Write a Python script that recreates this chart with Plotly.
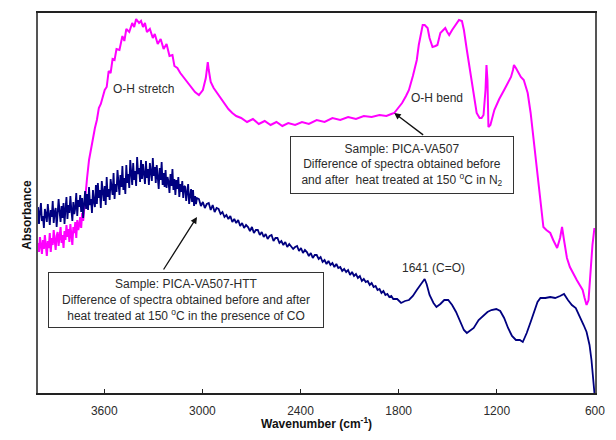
import plotly.graph_objects as go

# ---------------- data ----------------
# Sample PICA-VA507 (N2), magenta.  Noisy start sampled every 6 cm-1.
n2_noisy_wn = list(range(4005, 3716, -6))
n2_noisy_abs = [150,141,156,147,139,153,144,158,149,137,
                152,145,160,141,155,148,163,150,143,157,
                161,147,154,166,150,158,145,162,153,168,
                156,164,151,169,158,148,166,160,171,155,
                173,163,168,176,165,180,172,184,197]
n2_wn = [3705,3693,3681,3669,3657,3645,3633,3621,3609,3597,3585,3573,3561,3549,3537,3525,3507,3489,3477,3465,
         3447,3429,3417,3405,3387,3375,3363,3351,3339,3321,3303,3291,3273,3255,3237,3219,3201,3183,3171,3153,3135,
         3117,3099,3081,3063,3045,3021,2997,2979,2967,2961,2949,2931,2913,2889,2865,2841,2817,2793,2763,2727,2691,
         2655,2619,2583,2547,2511,2475,2433,2391,2349,2301,2253,2205,2157,2109,2061,2013,1965,1917,1875,1845,1827,
         1803,1779,1755,1737,1713,1689,1677,1665,1653,1641,1623,1611,1593,1575,1563,1545,1527,1515,1503,1491,1473,
         1461,1443,1431,1413,1401,1383,1365,1353,1335,1323,1305,1293,1281,1269,1263,1257,1251,1239,1215,1185,1155,
         1131,1113,1101,1095,1083,1071,1053,1035,1011,993,975,957,945,927,915,897,873,855,831,813,801,789,771,753,
         729,711,693,675,663,651,639,627,615,603]
n2_abs = [215,233,245,253,265,273,285,289,297,303,306,322,320,334,333,344,343,357,352,364,
          361,370,366,374,370,372,366,370,361,364,355,359,349,354,344,349,337,338,327,325,320,
          316,313,309,305,301,298,303,315,331,323,311,305,301,295,290,284,280,277,275,271,274,
          269,272,268,271,267,270,268,271,269,273,271,275,273,276,274,277,276,278,277,279,280,
          285,290,297,303,317,333,348,360,368,368,365,355,346,347,348,360,363,365,361,358,363,
          366,370,373,372,363,343,325,310,293,280,275,275,278,303,328,313,266,268,283,294,303,
          310,316,323,328,325,321,316,313,300,280,253,228,210,183,166,163,160,153,145,155,166,153,135,126,
          118,113,108,103,95,88,93,123,148,165]

# Sample PICA-VA507-HTT (CO), navy.  Noisy part sampled every 6 / 12 cm-1.
co_noisy_wn = list(range(4005, 3032, -6))
co_noisy_abs = [186,169,181,190,172,177,165,184,179,171,
                189,175,168,183,176,192,170,181,185,166,
                178,194,181,171,187,175,190,169,184,196,
                174,188,180,197,183,172,191,179,185,200,
                177,193,186,198,181,195,175,190,202,184,
                199,183,206,188,194,180,203,191,186,208,
                189,210,195,203,185,212,198,192,207,188,
                216,196,204,193,214,207,198,220,194,209,
                201,223,210,198,218,206,227,203,215,199,
                228,210,219,205,233,216,208,230,213,222,
                207,236,219,225,211,233,214,229,218,209,
                232,215,224,208,230,221,212,235,217,226,
                210,228,219,204,225,213,231,208,220,206,
                223,205,216,211,200,219,207,224,203,214,
                198,213,204,216,196,209,201,212,195,207,
                206,192,201,209,189,198,204,191,203,187,
                197,189,195]
co_mid_wn = list(range(3021, 1832, -12))
co_mid_abs = [194,187,191,185,189,190,183,188,181,185,
              184,179,181,176,178,174,177,171,174,170,
              173,167,170,165,168,166,162,166,160,163,
              163,158,161,156,159,154,157,158,152,155,
              155,150,152,148,151,146,149,147,144,146,
              147,142,145,140,143,141,137,140,135,138,
              138,134,136,131,133,129,132,128,130,126,
              129,125,126,122,124,121,123,118,121,117,
              119,115,117,112,114,111,112,108,110,106,
              107,103,104,100,102,98,99,96,97,94]
co_wn = [1809,1785,1761,1737,1713,1689,1665,1641,1629,1611,1587,1569,1545,1521,1497,
         1473,1449,1425,1401,1383,1365,1341,1311,1281,1257,1233,1203,1179,1155,1131,1107,1083,1059,1041,1017,993,
         969,951,933,903,873,843,813,789,765,741,717,693,669,651,633,621,609,603]
co_abs = [94,90,92,93,97,103,109,114,109,98,90,86,89,93,93,
          88,81,71,63,60,62,65,73,78,81,83,84,82,75,65,57,53,53,51,60,71,
          83,91,95,95,96,95,97,99,93,88,85,77,68,61,48,33,8,0]

x_ticks = [3600, 3000, 2400, 1800, 1200, 600]

FONT = "Arial, 'Liberation Sans', sans-serif"
TXT = "#2b2b2b"

fig = go.Figure()
fig.add_trace(go.Scatter(x=n2_noisy_wn + n2_wn, y=n2_noisy_abs + n2_abs, mode="lines",
                         line=dict(color="#ff00ff", width=2), showlegend=False))
fig.add_trace(go.Scatter(x=co_noisy_wn + co_mid_wn + co_wn, y=co_noisy_abs + co_mid_abs + co_abs,
                         mode="lines", line=dict(color="#000080", width=1.8), showlegend=False))

annotations = [
    dict(x=3357, y=304, text="O-H stretch", showarrow=False, font=dict(size=12, color=TXT, family=FONT)),
    dict(x=1563, y=295, text="O-H bend", showarrow=False, font=dict(size=12, color=TXT, family=FONT)),
    dict(x=1587, y=125, text="1641 (C=O)", showarrow=False, font=dict(size=12, color=TXT, family=FONT)),
    # arrows
    dict(x=1827, y=280, ax=1641, ay=257, axref="x", ayref="y", text="", showarrow=True,
         arrowhead=2, arrowsize=1, arrowwidth=1.3, arrowcolor="#111"),
    dict(x=3033, y=176, ax=3243, ay=122, axref="x", ayref="y", text="", showarrow=True,
         arrowhead=2, arrowsize=1, arrowwidth=1.3, arrowcolor="#111"),
    # boxes
    dict(x=1779, y=228.5, showarrow=False,
         text="Sample: PICA-VA507<br>Difference of spectra obtained before<br>and after  heat treated at 150 <sup>o</sup>C in N<sub>2</sub>",
         font=dict(size=12, color=TXT, family=FONT), bgcolor="white", bordercolor="#333",
         borderwidth=1, borderpad=3, width=216, height=50, align="center"),
    dict(x=3099, y=93.5, showarrow=False,
         text="Sample: PICA-VA507-HTT<br>Difference of spectra obtained before and after<br>heat treated at 150 <sup>o</sup>C in the presence of CO",
         font=dict(size=12, color=TXT, family=FONT), bgcolor="white", bordercolor="#333",
         borderwidth=1, borderpad=3, width=268, height=48, align="center"),
    # axis titles
    dict(xref="paper", yref="paper", x=0.5, y=-0.105, text="Wavenumber (cm<sup>-1</sup>)",
         showarrow=False, font=dict(size=12, color="#111", family=FONT, weight="bold")),
    dict(xref="paper", yref="paper", x=-0.035, y=0.468, text="Absorbance", textangle=-90,
         showarrow=False, font=dict(size=12, color="#111", family=FONT, weight="bold")),
]

fig.update_layout(
    width=616, height=440,
    margin=dict(l=38, r=11, t=13, b=47),
    paper_bgcolor="white", plot_bgcolor="white",
    annotations=annotations,
    xaxis=dict(range=[4005, 599.5], tickvals=x_ticks, ticktext=[str(t) for t in x_ticks],
               ticks="inside", ticklen=4, tickcolor="#222", showgrid=False, zeroline=False,
               showline=True, linecolor="#222", linewidth=1.5, mirror=True,
               tickfont=dict(size=12, color=TXT, family=FONT), ticklabelstandoff=6),
    yaxis=dict(range=[0, 380], showticklabels=False, ticks="", showgrid=False, zeroline=False,
               showline=True, linecolor="#555", linewidth=1.5, mirror=True),
)

fig.write_html("out.html", config={"displayModeBar": False},
               post_script="document.body.style.margin='0';document.body.style.overflow='hidden';")
